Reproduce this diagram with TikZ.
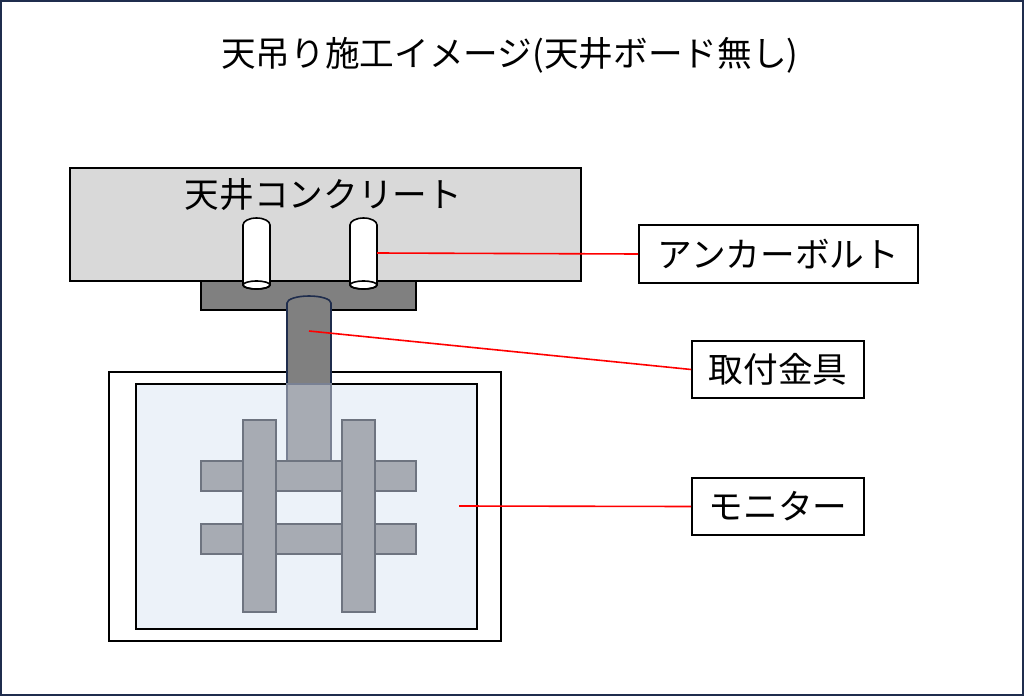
\documentclass[tikz,border=0pt]{standalone}
\usepackage{fontspec}
\newfontfamily\cjk{Noto Sans CJK JP}
\begin{document}
\begin{tikzpicture}[x=0.75pt,y=-0.75pt,
 txt/.style={font=\cjk\fontsize{26}{28}\selectfont},
 lbl/.style={txt,draw=black,line width=1.2pt,fill=white,inner sep=0pt},
 bar/.style={fill=barc,draw=barb,line width=0.9pt},
 red/.style={draw=red,line width=1.2pt}]
\definecolor{barc}{HTML}{A7ABB3}
\definecolor{barb}{HTML}{6E7480}
\definecolor{navy}{HTML}{1F2D4D}
\useasboundingbox (0,0) rectangle (1024,696);
\draw[navy,line width=1.5pt] (1,1) rectangle (1023,695);
\node[txt] (title) at (510,55) {天吊り施工イメージ(天井ボード無し)};
% concrete
\draw[fill=black!15,line width=1.2pt] (70,168) rectangle (581,281);
\node[txt,anchor=west] (conc) at (180,195) {天井コンクリート};
\draw[fill=black!50,line width=1.2pt] (201,281) rectangle (416,310);
% bolts
\foreach \x/\n in {256.5/b1,363.5/b2}{
 \draw[fill=white,line width=1.2pt] (\x-13.5,225) -- (\x-13.5,285) arc[start angle=180,end angle=0,x radius=13.5,y radius=4] -- (\x+13.5,225) arc[start angle=0,end angle=-180,x radius=13.5,y radius=7] -- cycle;
 \draw[line width=1.2pt] (\x,285) ellipse[x radius=13.5,y radius=4];
 \coordinate (\n) at (\x+13.5,253);
}
% monitor
\draw[fill=white,line width=1.2pt] (109,372) rectangle (501,641);
\draw[fill=black!50,draw=navy,line width=1.2pt] (287,461) -- (287,303) arc[start angle=180,end angle=360,x radius=22,y radius=7] -- (331,461);
\fill[fill={rgb,255:red,222;green,232;blue,245},fill opacity=0.55] (136,384) rectangle (477,629);
\draw[line width=1.2pt] (136,384) rectangle (477,629);
\draw[draw=navy!60,line width=0.9pt,fill=barc] (287,384) rectangle (331,461);
\draw[bar] (201,461) rectangle (416,491);
\draw[bar] (201,524) rectangle (416,554);
\draw[bar] (243,420) rectangle (276,612);
\draw[bar] (342,420) rectangle (375,612);
\coordinate (rod) at (309,331);
\coordinate (mon) at (459,506);
% labels
\node[lbl,minimum width=279*0.75pt,minimum height=58*0.75pt] (l1) at (778.5,254) {アンカーボルト};
\node[lbl,minimum width=172*0.75pt,minimum height=57*0.75pt] (l2) at (778,369.5) {取付金具};
\node[lbl,minimum width=172*0.75pt,minimum height=57*0.75pt] (l3) at (778,506.5) {モニター};
\draw[red] (b2) -- (l1.west);
\draw[red] (rod) -- (l2.west);
\draw[red] (mon) -- (l3.west);
\end{tikzpicture}
\end{document}
